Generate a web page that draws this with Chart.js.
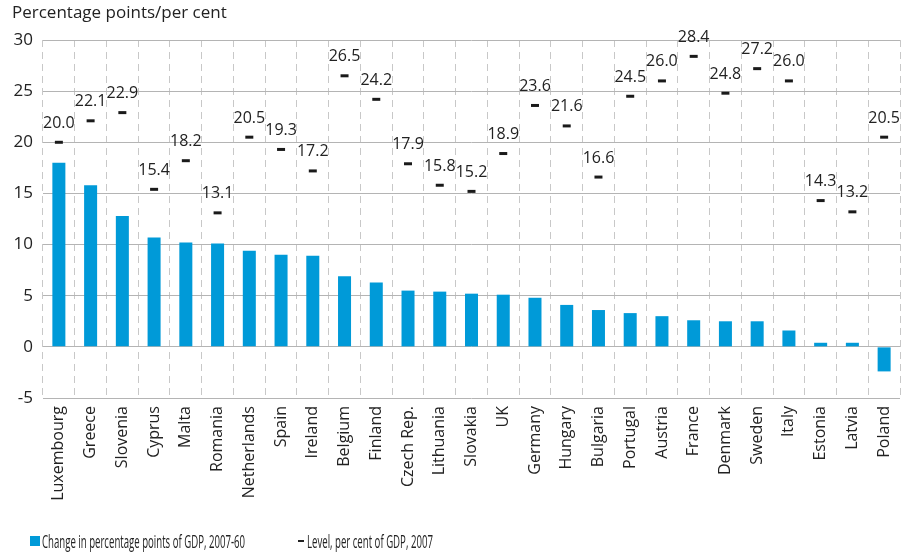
<!DOCTYPE html>
<html>
<head>
<meta charset="utf-8">
<script src="https://cdn.jsdelivr.net/npm/chart.js@4"></script>
<style>
  body { margin: 0; background: #fff; }
  .wrap { position: relative; width: 918px; height: 554px; font-family: 'Open Sans', sans-serif; color: #222; }
  .title { position: absolute; left: 12px; top: 0px; font-size: 17px; }
  .legend { position: absolute; top: 528px; left: 30px; font-size: 18.5px; }
  .legend span { position: absolute; top: 0; white-space: nowrap; display: flex; align-items: center; }
  .legend em { font-style: normal; display: inline-block; transform: scaleX(0.52); transform-origin: left center; }
  .sq { width: 10px; height: 10px; background: #009ad8; margin-right: 2px; display: inline-block; }
  .dash { width: 6px; height: 2px; background: #222; margin-right: 3px; display: inline-block; }
</style>
</head>
<body>
<div class="wrap">
  <canvas id="chart" width="918" height="554"></canvas>
  <div class="title">Percentage points/per cent</div>
  <div class="legend">
    <span style="left:0"><i class="sq"></i><em>Change in percentage points of GDP, 2007-60</em></span>
    <span style="left:268px"><i class="dash"></i><em>Level, per cent of GDP, 2007</em></span>
  </div>
</div>
<script>
const countries = ['Luxembourg', 'Greece', 'Slovenia', 'Cyprus', 'Malta', 'Romania', 'Netherlands', 'Spain', 'Ireland',
  'Belgium', 'Finland', 'Czech Rep.', 'Lithuania', 'Slovakia', 'UK', 'Germany', 'Hungary', 'Bulgaria', 'Portugal',
  'Austria', 'France', 'Denmark', 'Sweden', 'Italy', 'Estonia', 'Latvia', 'Poland'];
const change = [18.0, 15.8, 12.8, 10.7, 10.2, 10.1, 9.4, 9.0, 8.9, 6.9, 6.3, 5.5, 5.4, 5.2, 5.1, 4.8, 4.1, 3.6, 3.3,
  3.0, 2.6, 2.5, 2.5, 1.6, 0.4, 0.4, -2.4];
const level = [20.0, 22.1, 22.9, 15.4, 18.2, 13.1, 20.5, 19.3, 17.2, 26.5, 24.2, 17.9, 15.8, 15.2, 18.9, 23.6, 21.6,
  16.6, 24.5, 26.0, 28.4, 24.8, 27.2, 26.0, 14.3, 13.2, 20.5];
const yTicks = [-5, 0, 5, 10, 15, 20, 25, 30];

const FONT = "'Open Sans', sans-serif";

// writes the level value above each dash
const levelLabels = {
  id: 'levelLabels',
  afterDatasetsDraw(chart) {
    const ctx = chart.ctx;
    const meta = chart.getDatasetMeta(0);
    ctx.save();
    ctx.font = '16px ' + FONT;
    ctx.fillStyle = '#222';
    ctx.textAlign = 'center';
    ctx.textBaseline = 'middle';
    meta.data.forEach((pt, i) => {
      ctx.fillText(level[i].toFixed(1), pt.x, pt.y - 19);
    });
    ctx.restore();
  }
};

new Chart(document.getElementById('chart'), {
  data: {
    labels: countries,
    datasets: [
      {
        type: 'line',
        label: 'Level, per cent of GDP, 2007',
        data: level,
        showLine: false,
        pointStyle: 'line',
        pointRadius: 4,
        pointBorderWidth: 3,
        borderColor: '#1a1a1a',
        backgroundColor: '#1a1a1a',
        order: 0,
      },
      {
        type: 'bar',
        label: 'Change in percentage points of GDP, 2007-60',
        data: change,
        backgroundColor: '#009ad8',
        barPercentage: 0.41,
        categoryPercentage: 1,
        order: 1,
      },
    ],
  },
  options: {
    responsive: false,
    animation: false,
    layout: { padding: { left: 0, right: 18, top: 40, bottom: 36 } },
    plugins: {
      legend: { display: false },
      tooltip: { enabled: false },
    },
    scales: {
      x: {
        offset: true,
        grid: { offset: true, color: '#c8c8c8', lineWidth: 1, drawTicks: false, borderDash: [7, 5] },
        border: { display: true, color: 'rgba(0,0,0,0)', dash: [7, 5] },
        ticks: { color: '#222', font: { family: FONT, size: 16 }, minRotation: 90, maxRotation: 90, padding: 8 },
        afterFit(scale) { scale.height = 120; },
      },
      y: {
        min: -5,
        max: 30,
        afterBuildTicks(scale) { scale.ticks = yTicks.map(v => ({ value: v })); },
        grid: { color: '#b4b4b4', lineWidth: 1, drawTicks: false },
        border: { display: false },
        ticks: { color: '#222', font: { family: FONT, size: 17 }, padding: 10 },
        afterFit(scale) { scale.width = 43; },
      },
    },
  },
  plugins: [levelLabels],
});
</script>
</body>
</html>
